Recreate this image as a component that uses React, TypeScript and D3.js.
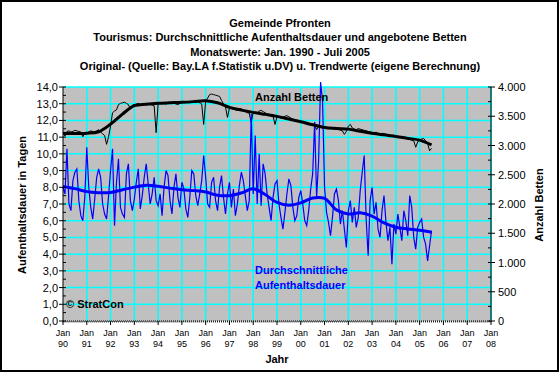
import React from 'react';
import * as d3 from 'd3';

// monthly values Jan 1990 - Jul 2005
const stayOriginal = [
  8.0, 7.6, 10.3, 7.0, 6.6, 8.4, 8.9, 9.1, 7.2, 6.3, 6.0, 7.4, // 1990
  10.4, 8.0, 6.8, 6.1, 7.3, 8.6, 9.1, 8.6, 7.0, 6.4, 6.1, 7.5, // 1991
  9.0, 10.3, 5.7, 8.3, 9.7, 6.8, 6.4, 6.2, 8.8, 9.4, 7.2, 6.6, // 1992
  7.3, 8.3, 9.1, 6.7, 7.5, 8.6, 9.4, 8.2, 7.0, 7.6, 8.6, 7.2, // 1993
  6.9, 7.6, 6.3, 8.0, 9.0, 8.7, 7.2, 6.4, 8.0, 8.8, 7.4, 6.8, // 1994
  8.3, 7.9, 6.7, 6.2, 7.4, 9.0, 8.8, 7.5, 6.9, 7.6, 8.4, 9.9, // 1995
  8.6, 7.0, 6.8, 8.3, 8.6, 7.2, 6.6, 8.0, 8.7, 7.4, 6.4, 7.6, // 1996
  8.3, 6.8, 7.9, 6.3, 7.0, 8.1, 8.9, 8.4, 7.5, 6.6, 7.2, 12.4, // 1997
  7.6, 11.1, 7.0, 10.0, 6.9, 9.4, 8.8, 7.6, 6.8, 6.0, 7.4, 8.2, // 1998
  8.4, 7.0, 6.2, 5.5, 6.5, 7.6, 8.5, 8.1, 6.8, 6.0, 6.3, 7.4, // 1999
  7.8, 7.0, 6.0, 5.7, 6.6, 7.9, 8.8, 11.9, 7.4, 9.6, 14.3, 13.1, // 2000
  8.0, 6.5, 5.9, 5.1, 6.2, 7.6, 7.9, 7.2, 5.8, 6.6, 5.5, 4.4, // 2001
  6.6, 7.2, 5.9, 6.8, 5.6, 6.2, 7.8, 8.9, 9.9, 6.1, 3.9, 7.2, // 2002
  8.0, 6.4, 7.1, 5.5, 5.0, 6.6, 7.5, 5.9, 4.8, 5.6, 3.4, 5.8, // 2003
  5.2, 6.4, 5.6, 4.8, 6.6, 6.0, 5.1, 7.5, 6.8, 5.0, 4.3, 5.6, // 2004
  5.9, 6.1, 5.0, 4.6, 3.6, 4.5, 5.4 // 2005
];

const bedsOriginal = [
  3220, 3160, 3240, 3250, 3230, 3240, 3260, 3250, 3240, 3230, 3150, 3220, // 1990
  3210, 3230, 3250, 3240, 3220, 3250, 3270, 3230, 3200, 3170, 3020, 3150, // 1991
  3330, 3560, 3590, 3610, 3700, 3720, 3730, 3740, 3720, 3700, 3620, 3690, // 1992
  3700, 3710, 3720, 3700, 3690, 3700, 3720, 3710, 3700, 3690, 3680, 3220, // 1993
  3710, 3720, 3730, 3720, 3710, 3730, 3740, 3730, 3720, 3710, 3700, 3720, // 1994
  3730, 3740, 3750, 3740, 3730, 3750, 3760, 3770, 3750, 3730, 3710, 3360, // 1995
  3760, 3810, 3870, 3880, 3870, 3860, 3850, 3840, 3770, 3710, 3660, 3480, // 1996
  3640, 3630, 3620, 3610, 3600, 3620, 3630, 3600, 3580, 3560, 3550, 3390, // 1997
  3570, 3560, 3550, 3590, 3600, 3580, 3560, 3540, 3530, 3510, 3500, 3360, // 1998
  3490, 3480, 3470, 3480, 3500, 3510, 3490, 3470, 3450, 3440, 3430, 3420, // 1999
  3410, 3400, 3390, 3400, 3380, 3370, 3360, 3350, 3270, 3330, 3310, 3300, // 2000
  3310, 3300, 3290, 3300, 3290, 3280, 3290, 3280, 3260, 3250, 3190, 3240, // 2001
  3330, 3360, 3300, 3280, 3270, 3290, 3280, 3270, 3260, 3250, 3240, 3230, // 2002
  3220, 3210, 3230, 3200, 3190, 3210, 3200, 3190, 3180, 3170, 3160, 3180, // 2003
  3150, 3160, 3140, 3130, 3140, 3120, 3110, 3100, 3090, 3080, 2970, 3060, // 2004
  3100, 3110, 3120, 3080, 3040, 2910, 2950 // 2005
];

// trend values (semi-annual reading points)
const trendYears = [
  1990, 1990.5, 1991, 1991.5, 1992, 1992.5, 1993, 1993.5, 1994, 1994.5, 1995, 1995.5,
  1996, 1996.5, 1997, 1997.5, 1998, 1998.5, 1999, 1999.5, 2000, 2000.5, 2001, 2001.5,
  2002, 2002.5, 2003, 2003.5, 2004, 2004.5, 2005, 2005.5
];
const stayTrend = [
  8.05, 7.92, 7.74, 7.68, 7.69, 7.85, 8.01, 8.12, 8.06, 7.95, 7.85, 7.80,
  7.72, 7.52, 7.50, 7.66, 7.91, 7.57, 7.09, 6.93, 7.07, 7.36, 7.33, 6.65,
  6.40, 6.47, 6.27, 5.87, 5.61, 5.51, 5.43, 5.31
];
const bedsTrend = [
  3210, 3205, 3210, 3235, 3365, 3537, 3680, 3705, 3721, 3730, 3738, 3750,
  3765, 3730, 3652, 3605, 3566, 3532, 3498, 3452, 3405, 3355, 3309, 3292,
  3280, 3245, 3211, 3182, 3154, 3122, 3091, 3010
];

const yearLabels = ['90', '91', '92', '93', '94', '95', '96', '97', '98', '99', '00', '01', '02', '03', '04', '05', '06', '07', '08'];
const titleLines = [
  'Gemeinde Pfronten',
  'Tourismus: Durchschnittliche Aufenthaltsdauer und angebotene Betten',
  'Monatswerte: Jan. 1990 - Juli 2005',
  'Original- (Quelle: Bay.LA f.Statistik u.DV) u. Trendwerte (eigene Berechnung)'
];

const FONT = '"Liberation Sans", Arial, sans-serif';
const left = 63, right = 491, top = 87, bottom = 321;

const de = d3.formatLocale({ decimal: ',', thousands: '.', grouping: [3], currency: ['', ''] });
const fmtLeft = de.format('.1f');
const fmtRight = de.format(',d');

export default function App() {
  const x = d3.scaleLinear().domain([1990, 2008]).range([left, right]);
  const yL = d3.scaleLinear().domain([0, 14]).range([bottom, top]);
  const yR = d3.scaleLinear().domain([0, 4000]).range([bottom, top]);

  const month = (i: number) => 1990 + i / 12;
  const stayLine = d3.line<number>().x((_, i) => x(month(i))).y(d => yL(d));
  const bedsLine = d3.line<number>().x((_, i) => x(month(i))).y(d => yR(d));
  const stayTrendLine = d3.line<number>().x((_, i) => x(trendYears[i])).y(d => yL(d)).curve(d3.curveCatmullRom);
  const bedsTrendLine = d3.line<number>().x((_, i) => x(trendYears[i])).y(d => yR(d)).curve(d3.curveCatmullRom);

  const leftTicks = d3.range(0, 15);
  const leftMinor = d3.range(0.5, 14, 1);
  const rightTicks = d3.range(0, 4001, 500);
  const rightMinor = d3.range(250, 4000, 500);
  const years = d3.range(1990, 2009);
  const months = d3.range(0, 18 * 12 + 1).map(month);

  return (
    <svg width={560} height={374} style={{ position: 'absolute', left: 0, top: 0, background: '#fff' }} fontFamily={FONT}>
      <rect x={1} y={1} width={557} height={370} fill="#fff" stroke="#000" strokeWidth={2} />
      {titleLines.map((t, i) => (
        <text key={t} x={280} y={27 + i * 14.3} textAnchor="middle" fontSize={11} fontWeight="bold">{t}</text>
      ))}

      <rect x={left} y={top} width={right - left} height={bottom - top} fill="#C0C0C0" />
      <g stroke="#00FFFF" strokeWidth={1.5}>
        {leftTicks.slice(1).map(t => (
          <line key={'h' + t} x1={left} x2={right} y1={yL(t)} y2={yL(t)} />
        ))}
        {years.slice(1).map(yr => (
          <line key={'v' + yr} x1={x(yr)} x2={x(yr)} y1={top} y2={bottom} />
        ))}
      </g>

      <path d={bedsLine(bedsOriginal) || ''} fill="none" stroke="#000" strokeWidth={1} />
      <path d={stayLine(stayOriginal) || ''} fill="none" stroke="#0000FF" strokeWidth={1.2} />
      <path d={bedsTrendLine(bedsTrend) || ''} fill="none" stroke="#000" strokeWidth={3} />
      <path d={stayTrendLine(stayTrend) || ''} fill="none" stroke="#0000FF" strokeWidth={3} />

      {/* left axis */}
      <line x1={left} x2={left} y1={top} y2={bottom} stroke="#000" />
      {leftTicks.map(t => (
        <g key={'l' + t}>
          <line x1={left - 4} x2={left + 3} y1={yL(t)} y2={yL(t)} stroke="#000" />
          <text x={58} y={yL(t) + 4} textAnchor="end" fontSize={11}>{fmtLeft(t)}</text>
        </g>
      ))}
      {leftMinor.map(t => (
        <line key={'lm' + t} x1={left} x2={left + 3} y1={yL(t)} y2={yL(t)} stroke="#000" />
      ))}

      {/* right axis */}
      <line x1={right} x2={right} y1={top} y2={bottom} stroke="#000" />
      {rightTicks.map(t => (
        <g key={'r' + t}>
          <line x1={right - 3} x2={right + 4} y1={yR(t)} y2={yR(t)} stroke="#000" />
          <text x={498} y={yR(t) + 4} fontSize={11}>{fmtRight(t)}</text>
        </g>
      ))}
      {rightMinor.map(t => (
        <line key={'rm' + t} x1={right - 3} x2={right} y1={yR(t)} y2={yR(t)} stroke="#000" />
      ))}

      {/* x axis */}
      <line x1={left} x2={right} y1={bottom} y2={bottom} stroke="#000" strokeDasharray="1,1" />
      {months.map((m, i) => (
        <line key={'m' + i} x1={x(m)} x2={x(m)} y1={bottom} y2={bottom + 1.5} stroke="#000" strokeWidth={0.8} />
      ))}
      {years.map((yr, i) => (
        <g key={'y' + yr}>
          <line x1={x(yr)} x2={x(yr)} y1={bottom} y2={bottom + 4} stroke="#000" />
          <text x={x(yr)} y={336} textAnchor="middle" fontSize={9}>Jan</text>
          <text x={x(yr)} y={347} textAnchor="middle" fontSize={9}>{yearLabels[i]}</text>
        </g>
      ))}

      <text x={277} y={363} textAnchor="middle" fontSize={11} fontWeight="bold">Jahr</text>
      <text transform="translate(26,205) rotate(-90)" textAnchor="middle" fontSize={11} fontWeight="bold">Aufenthaltsdauer in Tagen</text>
      <text transform="translate(543,205) rotate(-90)" textAnchor="middle" fontSize={11} fontWeight="bold">Anzahl Betten</text>

      <text x={255} y={101} fontSize={11} fontWeight="bold">Anzahl Betten</text>
      <text x={255} y={274} fontSize={11} fontWeight="bold" fill="#0000FF">Durchschnittliche</text>
      <text x={255} y={289} fontSize={11} fontWeight="bold" fill="#0000FF">Aufenthaltsdauer</text>
      <text x={66} y={308} fontSize={11} fontWeight="bold">© StratCon</text>
    </svg>
  );
}
